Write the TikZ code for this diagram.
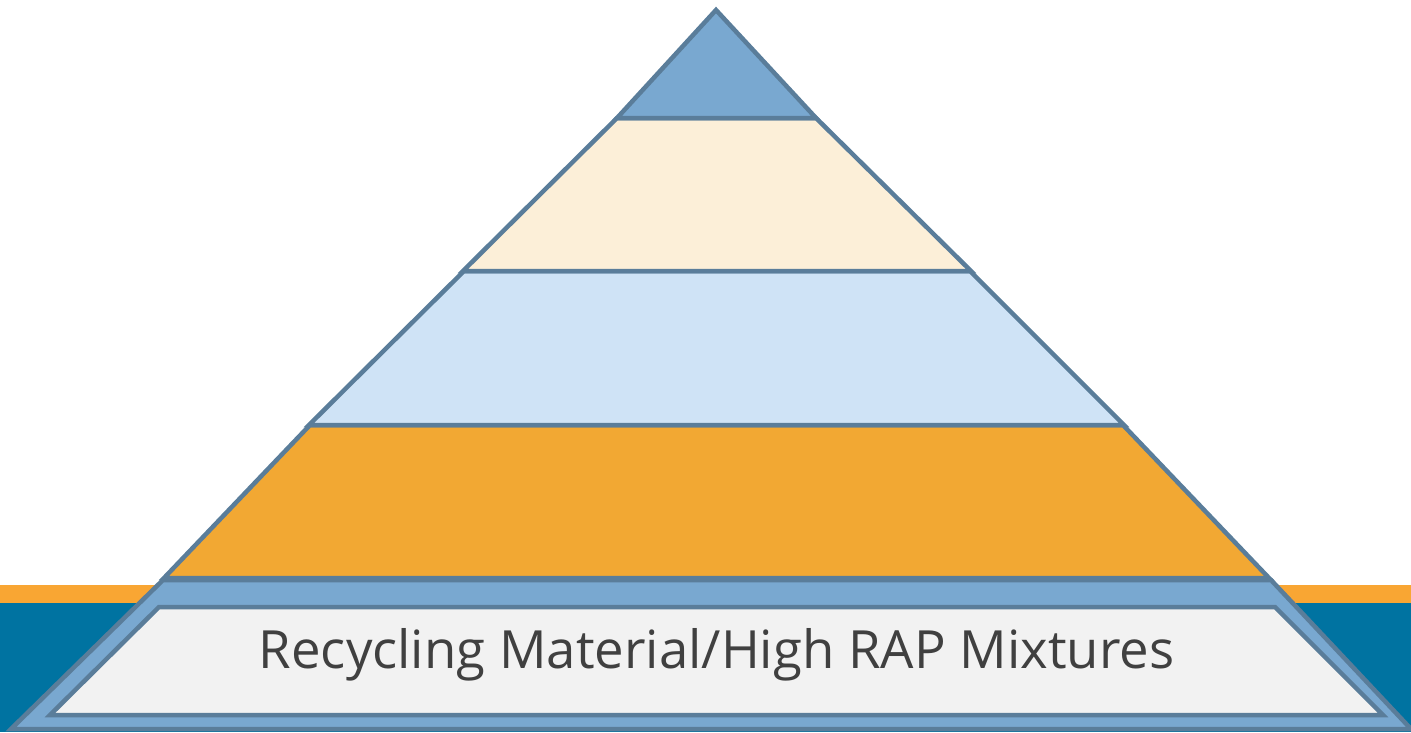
\documentclass[tikz,border=0pt]{standalone}
\usepackage{fontspec}
\setmainfont{Open Sans}
\definecolor{edge}{HTML}{5A7D9A}
\definecolor{midblue}{HTML}{79A8D0}
\definecolor{cream}{HTML}{FCEFD8}
\definecolor{paleblue}{HTML}{CFE3F6}
\definecolor{layerorange}{HTML}{F2A833}
\definecolor{palegray}{HTML}{F2F2F2}
\definecolor{stripeorange}{HTML}{F9A633}
\definecolor{stripeblue}{HTML}{0073A1}
\definecolor{txt}{HTML}{404040}
\tikzset{
  layer/.style={draw=edge, line width=4.5pt, line join=miter},
}
\begin{document}
\begin{tikzpicture}[x=1pt,y=-1pt]
\useasboundingbox (0,0) rectangle (1411,732);
% background stripes
\fill[stripeorange] (0,585) rectangle (1411,604);
\fill[stripeblue] (0,603) rectangle (1411,732);
% bottom band
\path[layer, fill=midblue] (163,580) -- (1271,580) -- (1411,729) -- (11,729) -- cycle;
\path[layer, fill=palegray] (159,607) -- (1275,607) -- (1383,715) -- (50,715) -- cycle;
% layers
\path[layer, fill=layerorange] (310,425) -- (1123,425) -- (1269,578) -- (164,578) -- cycle;
\path[layer, fill=paleblue] (464,271) -- (970,271) -- (1124,425) -- (309,425) -- cycle;
\path[layer, fill=cream] (617,118) -- (816,118) -- (971,271) -- (463,271) -- cycle;
\path[layer, fill=midblue] (716,10) -- (816,118) -- (617,118) -- cycle;
\node[text=txt, font=\fontsize{52.7}{60}\selectfont, inner sep=0pt] (label) at (716.5,655) {Recycling Material/High RAP Mixtures};
\end{tikzpicture}
\end{document}
